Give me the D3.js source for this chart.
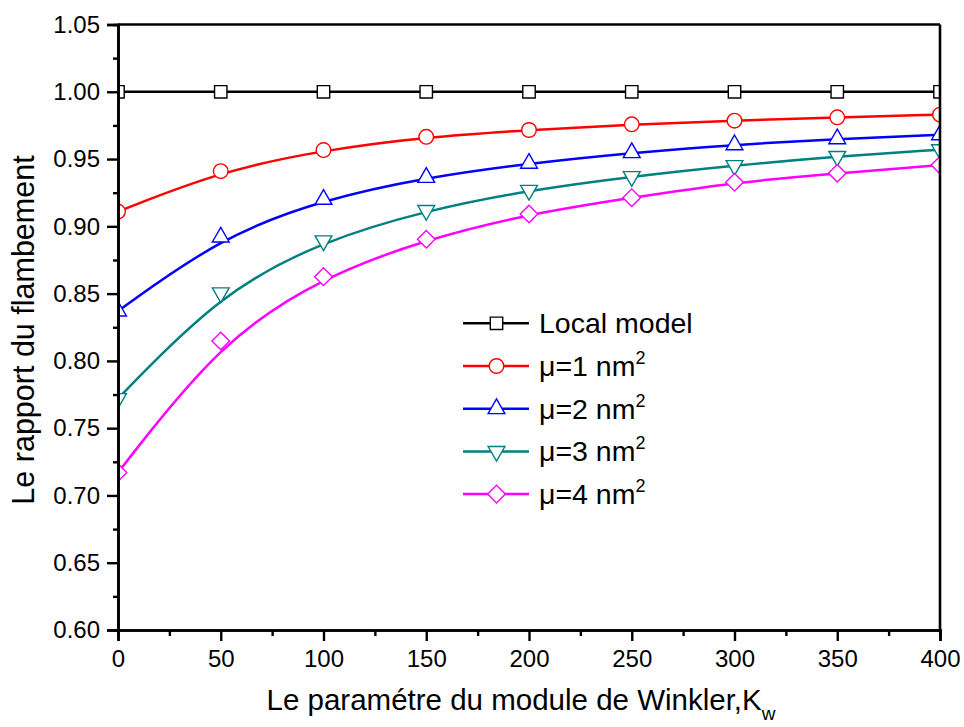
<!DOCTYPE html>
<html><head><meta charset="utf-8">
<script src="https://cdn.jsdelivr.net/npm/d3@7"></script>
<style>body{margin:0;background:#fff}text{font-family:"Liberation Sans",Arial,sans-serif;fill:#000}</style>
</head><body><svg id="c" width="964" height="727"></svg>
<script>
const kw = [0, 50, 100, 150, 200, 250, 300, 350, 400];
const localModel = [1.0, 1.0, 1.0, 1.0, 1.0, 1.0, 1.0, 1.0, 1.0];
const mu1 = [0.911, 0.941, 0.9567, 0.9665, 0.9716, 0.9758, 0.9785, 0.981, 0.983];
const mu2 = [0.837, 0.892, 0.920, 0.9363, 0.9468, 0.9547, 0.9606, 0.965, 0.968];
const mu3 = [0.772, 0.8506, 0.8893, 0.9118, 0.9268, 0.937, 0.9452, 0.952, 0.957];
const mu4 = [0.717, 0.8148, 0.8626, 0.8904, 0.9092, 0.9213, 0.9327, 0.9394, 0.9455];
const seriesLabels = ["Local model", "\u03bc=1 nm", "\u03bc=2 nm", "\u03bc=3 nm", "\u03bc=4 nm"];
const seriesColors = ["#000000", "#ff0000", "#0000ff", "#008080", "#ff00ff"];
const seriesMarkers = ["square", "circle", "triangle", "triangleDown", "diamond"];
const yTicks = [0.60, 0.65, 0.70, 0.75, 0.80, 0.85, 0.90, 0.95, 1.00, 1.05];
const xTicks = [0, 50, 100, 150, 200, 250, 300, 350, 400];
const xTitle = "Le paramétre du module de Winkler,K";
const xTitleSub = "w";
const yTitle = "Le rapport du flambement";

const allSeries = [localModel, mu1, mu2, mu3, mu4];
const svg = d3.select("#c");
const L = 118, R = 940, T = 24.5, B = 630;
const x = d3.scaleLinear().domain([0, 400]).range([L, R]);
const y = d3.scaleLinear().domain([0.60, 1.05]).range([B, T]);

svg.append("defs").append("clipPath").attr("id", "clip")
  .append("rect").attr("x", L).attr("y", T).attr("width", R - L).attr("height", B - T);

function markerPath(type) {
  switch (type) {
    case "square": return "M-6.2,-6.2H6.2V6.2H-6.2Z";
    case "circle": return d3.symbol(d3.symbolCircle, Math.PI * 7.3 * 7.3)();
    case "triangle": return "M0,-9.8L8.4,4.9L-8.4,4.9Z";
    case "triangleDown": return "M0,9.8L8.4,-4.9L-8.4,-4.9Z";
    case "diamond": return "M0,-8.8L8.8,0L0,8.8L-8.8,0Z";
  }
}

const plot = svg.append("g").attr("clip-path", "url(#clip)");
const line = d3.line().x((d, i) => x(kw[i])).y(d => y(d)).curve(d3.curveBasis);
allSeries.forEach((s, k) => {
  plot.append("path").attr("d", line(s)).attr("fill", "none")
    .attr("stroke", seriesColors[k]).attr("stroke-width", 2.5);
});
allSeries.forEach((s, k) => {
  plot.selectAll(null).data(s).enter().append("path")
    .attr("d", markerPath(seriesMarkers[k]))
    .attr("transform", (d, i) => `translate(${x(kw[i])},${y(d)})`)
    .attr("fill", "#fff").attr("stroke", seriesColors[k]).attr("stroke-width", 1.4);
});

// frame
svg.append("line").attr("x1", L).attr("x2", R).attr("y1", T).attr("y2", T).attr("stroke", "#000").attr("stroke-width", 2.6);
svg.append("line").attr("x1", R).attr("x2", R).attr("y1", T).attr("y2", B).attr("stroke", "#000").attr("stroke-width", 2.6);

// axes
const yMinor = d3.range(0, 9).map(i => 0.625 + i * 0.05);
const xMinor = d3.range(0, 8).map(i => 25 + i * 50);
svg.append("g").attr("transform", `translate(${L},0)`)
  .call(d3.axisLeft(y).tickValues(yTicks).tickFormat(d3.format(".2f")).tickSize(11).tickPadding(7));
svg.append("g").attr("transform", `translate(${L},0)`)
  .call(d3.axisLeft(y).tickValues(yMinor).tickFormat("").tickSize(5));
svg.append("g").attr("transform", `translate(0,${B})`)
  .call(d3.axisBottom(x).tickValues(xTicks).tickFormat(d3.format("d")).tickSize(11).tickPadding(9));
svg.append("g").attr("transform", `translate(0,${B})`)
  .call(d3.axisBottom(x).tickValues(xMinor).tickFormat("").tickSize(6));
svg.selectAll(".domain").attr("stroke", "#000").attr("stroke-width", 2.6);
svg.selectAll(".tick line").attr("stroke", "#000").attr("stroke-width", 2.4);
svg.selectAll(".tick text").style("font-size", "24px").style("font-family", "'Liberation Sans',Arial,sans-serif");

// titles
const xt = svg.append("text").attr("x", 521).attr("y", 710).attr("text-anchor", "middle").style("font-size", "29.5px");
xt.append("tspan").text(xTitle);
xt.append("tspan").attr("dy", 10).style("font-size", "19px").text(xTitleSub);
svg.append("text").attr("transform", "translate(34,330) rotate(-90)").attr("text-anchor", "middle")
  .style("font-size", "30.5px").text(yTitle);

// legend
const lg = svg.append("g");
const ly0 = 323.3, ldy = 42.7;
seriesLabels.forEach((lab, k) => {
  const yy = ly0 + k * ldy;
  lg.append("line").attr("x1", 463).attr("x2", 529).attr("y1", yy).attr("y2", yy)
    .attr("stroke", seriesColors[k]).attr("stroke-width", 2.5);
  lg.append("path").attr("d", markerPath(seriesMarkers[k])).attr("transform", `translate(496.5,${yy})`)
    .attr("fill", "#fff").attr("stroke", seriesColors[k]).attr("stroke-width", 1.4);
  const t = lg.append("text").attr("x", 539).attr("y", yy + 10).style("font-size", "28.5px");
  t.append("tspan").text(lab);
  if (k > 0) t.append("tspan").attr("dy", -12).style("font-size", "18px").text("2");
});
</script></body></html>
